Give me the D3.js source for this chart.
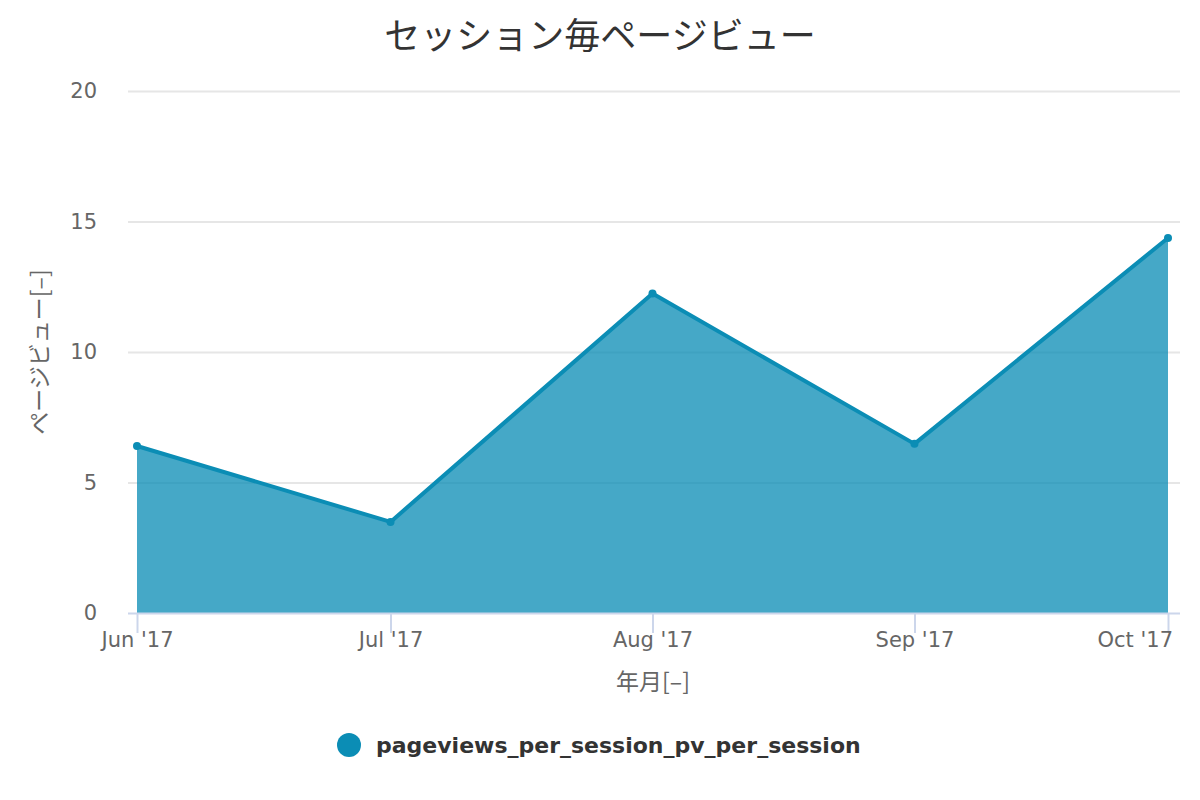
<!DOCTYPE html>
<html>
<head>
<meta charset="utf-8">
<script src="https://cdn.jsdelivr.net/npm/d3@7"></script>
<style>
  body { margin: 0; background: #fff; }
  text { font-family: "DejaVu Sans", "Noto Sans CJK JP", sans-serif; }
</style>
</head>
<body>
<div id="chart"></div>
<script>
// data
var months = ["2017-06-01", "2017-07-01", "2017-08-01", "2017-09-01", "2017-10-01"];
var pvPerSession = [6.40, 3.49, 12.24, 6.48, 14.37];
var yTicks = [0, 5, 10, 15, 20];
var seriesName = "pageviews_per_session_pv_per_session";

var width = 1200, height = 800;
var lineColor = "#0b8db5";
var parse = d3.timeParse("%Y-%m-%d");
var data = months.map(function(m, i) { return { date: parse(m), value: pvPerSession[i] }; });

var svg = d3.select("#chart").append("svg")
  .attr("width", width)
  .attr("height", height);

var plotLeft = 128, plotRight = 1180, plotTop = 91, plotBottom = 613;

var x = d3.scaleTime()
  .domain(d3.extent(data, d => d.date))
  .range([137, 1168]);

var y = d3.scaleLinear()
  .domain([0, 20])
  .range([plotBottom, plotTop]);

// title
svg.append("text")
  .attr("x", 600).attr("y", 49)
  .attr("text-anchor", "middle")
  .style("font-family", "'Noto Sans CJK JP', sans-serif")
  .style("font-size", "36px")
  .attr("fill", "#333")
  .text("セッション毎ページビュー");

// grid lines
svg.append("g").selectAll("line")
  .data(yTicks.filter(t => t > 0))
  .enter().append("line")
  .attr("x1", plotLeft).attr("x2", plotRight)
  .attr("y1", d => y(d) + 0.5).attr("y2", d => y(d) + 0.5)
  .attr("stroke", "#e6e6e6")
  .attr("stroke-width", 2);

// y axis labels
var yAxis = d3.axisLeft(y).tickValues(yTicks).tickSize(0).tickPadding(0);
var gy = svg.append("g")
  .attr("transform", "translate(97,0)")
  .call(yAxis);
gy.select(".domain").remove();
gy.selectAll("text")
  .style("font-family", "'DejaVu Sans', sans-serif")
  .style("font-size", "21px")
  .attr("fill", "#666");

// area + line
var area = d3.area()
  .x(d => x(d.date))
  .y0(y(0))
  .y1(d => y(d.value));

var line = d3.line()
  .x(d => x(d.date))
  .y(d => y(d.value));

svg.append("path")
  .datum(data)
  .attr("d", area)
  .attr("fill", lineColor)
  .attr("fill-opacity", 0.76);

svg.append("path")
  .datum(data)
  .attr("d", line)
  .attr("fill", "none")
  .attr("stroke", lineColor)
  .attr("stroke-width", 4)
  .attr("stroke-linejoin", "round");

svg.append("g").selectAll("circle")
  .data(data)
  .enter().append("circle")
  .attr("cx", d => x(d.date))
  .attr("cy", d => y(d.value))
  .attr("r", 4)
  .attr("fill", lineColor);

// x axis
svg.append("line")
  .attr("x1", plotLeft).attr("x2", plotRight)
  .attr("y1", plotBottom + 0.5).attr("y2", plotBottom + 0.5)
  .attr("stroke", "#ccd6eb")
  .attr("stroke-width", 2);

var fmt = d3.timeFormat("%b '%y");
var xAxis = d3.axisBottom(x)
  .tickValues(data.map(d => d.date))
  .tickFormat(fmt)
  .tickSize(20)
  .tickPadding(-1);
var gx = svg.append("g")
  .attr("transform", "translate(0," + plotBottom + ")")
  .call(xAxis);
gx.select(".domain").remove();
gx.selectAll("line").attr("stroke", "#ccd6eb").attr("stroke-width", 2);
gx.selectAll("text")
  .style("font-family", "'DejaVu Sans', sans-serif")
  .style("font-size", "21px")
  .attr("fill", "#666");
// keep the last label inside the chart, like the original
gx.selectAll("text").each(function() {
  var bb = this.getBBox();
  var tx = this.parentNode.transform.baseVal.consolidate().matrix.e;
  var right = tx + bb.x + bb.width;
  if (right > 1173) d3.select(this).attr("x", 1173 - right);
});

// axis titles
svg.append("text")
  .attr("x", 653).attr("y", 690)
  .attr("text-anchor", "middle")
  .style("font-family", "'Noto Sans CJK JP', sans-serif")
  .style("font-size", "23px")
  .attr("fill", "#666")
  .text("年月[–]");

svg.append("text")
  .attr("transform", "translate(48," + ((plotTop + plotBottom) / 2) + ") rotate(-90)")
  .attr("text-anchor", "middle")
  .style("font-family", "'Noto Sans CJK JP', sans-serif")
  .style("font-size", "23px")
  .attr("fill", "#666")
  .text("ページビュー[–]");

// legend
var legend = svg.append("g").attr("transform", "translate(349,745)");
legend.append("circle")
  .attr("r", 12)
  .attr("fill", lineColor);
legend.append("text")
  .attr("x", 27).attr("y", 8)
  .style("font-family", "'DejaVu Sans', sans-serif")
  .style("font-size", "22px")
  .style("font-weight", "bold")
  .attr("fill", "#333")
  .text(seriesName);
</script>
</body>
</html>
